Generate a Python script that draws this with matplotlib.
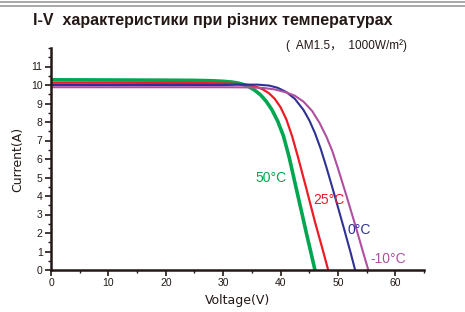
import matplotlib
matplotlib.use("Agg")
import matplotlib.pyplot as plt
from matplotlib.ticker import MultipleLocator
from matplotlib.lines import Line2D

# Data (Voltage V, Current A)
v_50 = [0, 10, 20, 25, 28, 30, 31.5, 32.5, 33.5, 34.5, 35.5, 36.5, 37.5, 38.5, 39.5, 40.5, 41.5, 43, 44.5, 46]
i_50 = [10.28, 10.27, 10.26, 10.25, 10.23, 10.2, 10.16, 10.11, 10.03, 9.9, 9.72, 9.47, 9.12, 8.66, 8.05, 7.25, 6.1, 4.05, 2.0, 0]
v_25 = [0, 10, 20, 28, 31, 33, 34.5, 36, 37, 38, 39, 40, 41, 42, 43, 44.5, 46, 47.3, 48.3]
i_25 = [10.12, 10.12, 10.11, 10.1, 10.08, 10.05, 10.0, 9.88, 9.75, 9.55, 9.25, 8.8, 8.15, 7.25, 6.15, 4.4, 2.6, 1.15, 0]
v_0 = [0, 10, 20, 30, 34, 36, 38, 39.5, 41, 42.5, 44, 45, 46, 47, 48, 49.5, 51, 52.2, 53]
i_0 = [10.0, 10.0, 10.0, 10.0, 10.02, 10.02, 9.97, 9.85, 9.62, 9.25, 8.65, 8.1, 7.4, 6.55, 5.55, 3.95, 2.3, 0.95, 0]
v_m10 = [0, 10, 20, 30, 35, 37, 39, 41, 42.5, 44, 45.5, 46.8, 48, 49, 50, 51.5, 53, 54.3, 55.3]
i_m10 = [9.88, 9.88, 9.88, 9.88, 9.87, 9.84, 9.76, 9.6, 9.42, 9.1, 8.6, 7.95, 7.2, 6.45, 5.5, 4.0, 2.45, 1.05, 0]

series_labels = ["50°C", "25°C", "0°C", "-10°C"]
label_pos_v = [35.6, 45.7, 51.6, 55.6]
label_pos_i = [5.0, 3.8, 2.15, 0.6]

x_ticks = [0, 10, 20, 30, 40, 50, 60]
y_ticks = list(range(0, 12))

colors = ["#00a650", "#ed1c24", "#2e3192", "#b04fa0"]
widths = [2.6, 1.6, 1.5, 1.5]

fig = plt.figure(figsize=(4.65, 3.12), dpi=100)
ax = fig.add_axes([51 / 465, 1 - 270 / 312, (424 - 51) / 465, (270 - 48) / 312])

series = [(v_50, i_50), (v_25, i_25), (v_0, i_0), (v_m10, i_m10)]
for (v, i), c, w in zip(series, colors, widths):
    ax.plot(v, i, color=c, lw=w, solid_capstyle="butt", solid_joinstyle="round", clip_on=False)

for lab, lv, li, c in zip(series_labels, label_pos_v, label_pos_i, colors):
    ax.text(lv, li, lab, color=c, fontsize=10, family=["Liberation Sans", "DejaVu Sans"],
            ha="left", va="center")

ax.set_xlim(0, 65)
ax.set_ylim(0, 12)
ax.set_xticks(x_ticks)
ax.set_yticks(y_ticks)
ax.xaxis.set_minor_locator(MultipleLocator(5))
ax.yaxis.set_minor_locator(MultipleLocator(0.5))
for s in ["top", "right"]:
    ax.spines[s].set_visible(False)
for s in ["left", "bottom"]:
    ax.spines[s].set_linewidth(1.8)
    ax.spines[s].set_color("#231815")
ax.tick_params(which="major", direction="out", length=4, width=1.2, color="#231815",
               labelsize=7.5, pad=2, labelcolor="#231815")
ax.tick_params(which="minor", direction="out", length=2.5, width=1.0, color="#231815")
for lab in ax.get_xticklabels() + ax.get_yticklabels():
    lab.set_family("Liberation Sans")

ax.set_xlabel("Voltage(V)", fontsize=9, color="#231815", labelpad=4)
ax.set_ylabel("Current(A)", fontsize=9, color="#231815", labelpad=5)

fig.text(33 / 465, 1 - 20 / 312, "I-V  характеристики при різних температурах",
         fontsize=11.5, fontweight="bold", family="Liberation Sans", va="center", ha="left",
         color="#231815")
fig.text(286 / 465, 1 - 46 / 312, "(  AM1.5，  1000W/m²)",
         fontsize=8.5, family=["Liberation Sans", "Noto Sans CJK JP"], va="center", ha="left",
         color="#231815")

# gray frame lines at the top
for yy, lw in [(1.5, 1.2), (5.5, 1.2)]:
    fig.add_artist(Line2D([0, 1], [1 - yy / 312, 1 - yy / 312], color="#999999", lw=lw,
                          transform=fig.transFigure))

fig.savefig("out.png", dpi=100)
